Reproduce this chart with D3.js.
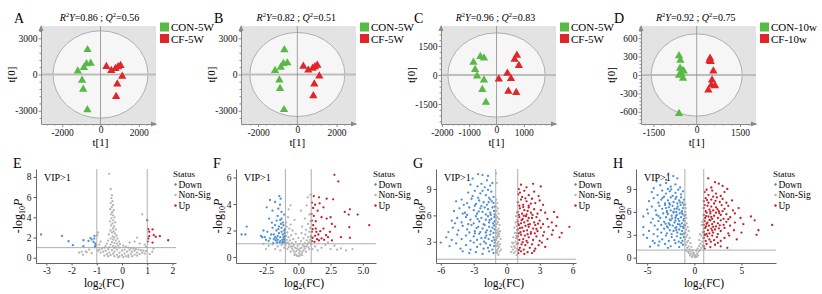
<!DOCTYPE html>
<html><head><meta charset="utf-8">
<script src="https://cdn.jsdelivr.net/npm/d3@7"></script>
<style>body{margin:0;background:#fff;}svg{display:block;}</style>
</head><body><svg id="c" width="822" height="294"></svg>
<script>
// ---------- PCA (OPLS-DA score plots) ----------
const pcaLabels = ["A","B","C","D"];
const pcaR2Y = ["0.86","0.82","0.96","0.92"];
const pcaQ2 = ["0.56","0.51","0.83","0.75"];
const pcaGroupCon = ["CON-5W","CON-5W","CON-5W","CON-10w"];
const pcaGroupCf = ["CF-5W","CF-5W","CF-5W","CF-10w"];
const pcaXTicks = [[-2000,0,2000],[-2000,0,2000],[-2000,-1000,0,1000],[-1500,0,1500]];
const pcaYTicks = [[-3000,0,3000],[-3000,0,3000],[-1500,0,1500],[-600,-300,0,300,600]];
const pcaXDomain = [[-3107,2898],[-2870,2987],[-2030,2177],[-1928,2053]];
const pcaYDomain = [[-4101,4018],[-4101,4018],[-2535,2535],[-798,798]];
const pcaEllipse = [[2480,3620],[2420,3480],[1780,2180],[1575,670]];
const conA = [[-676,2055],[-728,881],[-513,920],[-867,567],[-1185,278],[-962,-486],[-902,-1223],[-685,-2930]];
const cfA  = [[308,649],[566,333],[782,498],[918,634],[1048,743],[1135,-145],[876,-785],[816,-1823]];
const conB = [[-661,2045],[-712,900],[-508,955],[-847,600],[-1136,327],[-915,-464],[-881,-1173],[-678,-2918]];
const cfB  = [[305,682],[559,355],[780,518],[898,627],[1017,764],[1119,-136],[864,-791],[814,-1773]];
const conC = [[-843,655],[-590,948],[-458,879],[-783,276],[-711,-52],[-458,-259],[-518,-759],[-386,-1414]];
const cfC  = [[747,1017],[663,810],[819,483],[398,86],[84,-207],[530,-190],[434,-845],[723,-914]];
const conD = [[-612,311],[-565,240],[-577,109],[-508,71],[-450,65],[-612,-5],[-531,20],[-473,-55],[-612,-627]];
const cfD  = [[462,273],[485,218],[438,229],[577,65],[531,-82],[508,-164],[635,-175],[404,-245]];

// ---------- Volcano plots ----------
const volLabels = ["E","F","G","H"];
const volXDomain = [[-3.41,2.14],[-4.83,6.02],[-6.43,6.3],[-6.18,8.66]];
const volYDomain = [[-0.52,8.78],[-0.45,6.64],[0.57,11.29],[-0.69,11.62]];
const volXTicks = [[-3,-2,-1,0,1,2],[-2.5,0,2.5,5],[-6,-3,0,3,6],[-5,0,5]];
const volXTickLabels = [["-3","-2","-1","0","1","2"],["-2.5","0.0","2.5","5.0"],["-6","-3","0","3","6"],["-5","0","5"]];
const volYTicks = [[0,2,4,6,8],[0,2,4,6],[3,6,9],[0,3,6,9]];
const fcCut = [-1,1];
const pCut = 1;
const statusNames = ["Down","Non-Sig","Up"];

const eDown = [[-3.21,2.3],[-2.38,2.16],[-2.12,1.63],[-1.95,1.24],[-1.53,1.73],[-1.33,1.66],[-1.2,1.8],[-1.09,2.16],[-1.13,1.57],[-1.06,1.4],[-1.06,1.14],[-1.1,1.9],[-1.53,1.14],[-1.04,1.25],[-1.08,1.05],[-1.25,1.95]];
const eUp = [[1.0,3.71],[1.04,2.83],[1.08,2.57],[1.21,2.8],[1.26,2.23],[1.08,2.13],[1.34,2.07],[1.5,2.13],[1.83,1.73],[1.21,1.5],[1.04,1.9],[1.02,1.6]];
const eNon = [[-0.51,8.3],[-0.45,6.8],[-0.4,6.2],[-0.42,5.9],[-0.38,5.6],[-0.45,5.4],[-0.36,5.2],[-0.41,5.0],[-0.47,4.8],[-0.33,4.7],[-0.39,4.5],[-0.44,4.3],[-0.36,4.2],[-0.3,4.0],[-0.42,3.9],[-0.35,3.7],[-0.48,3.6],[-0.27,3.5],[-0.38,3.4],[-0.43,3.2],[-0.31,3.1],[-0.36,2.9],[-0.25,2.8],[-0.46,2.7],[-0.33,2.6],[-0.4,2.5],[-0.28,2.4],[-0.52,2.3],[-0.22,2.2],[-0.37,2.1],[-0.3,2.0],[-0.45,1.9],[-0.18,1.9],[-0.35,1.8],[-0.25,1.7],[-0.55,1.7],[-0.12,1.6],[-0.4,1.55],[-0.3,1.45],[-0.2,1.4],[-0.6,1.4],[-0.08,1.35],[-0.45,1.3],[-0.15,1.2],[-0.35,1.15],[-0.65,1.15],[-0.25,1.1],[0.05,1.2],[-0.5,1.05],[0.15,1.1],[-0.1,1.0],[-0.7,1.0],[0.25,1.0],[-0.3,0.95],[0.35,0.95],[-0.8,0.9],[0.45,0.9],[-0.55,0.85],[0.55,0.85],[-0.2,0.8],[0.1,0.8],[-0.9,0.8],[0.65,0.8],[-0.4,0.75],[0.3,0.75],[0.75,0.75],[-0.65,0.7],[0.0,0.7],[0.5,0.7],[-0.95,0.7],[0.85,0.7],[-0.3,0.6],[0.2,0.6],[0.4,0.6],[-0.75,0.6],[0.95,0.65],[-0.5,0.5],[-0.1,0.5],[0.6,0.5],[0.8,0.5],[-0.85,0.5],[0.1,0.4],[-0.35,0.4],[0.35,0.4],[-0.6,0.35],[0.7,0.35],[-0.2,0.3],[0.5,0.3],[0.0,0.25],[-0.45,0.25],[0.25,0.25],[-0.7,0.2],[0.9,0.4],[-0.1,0.15],[0.15,0.15],[0.4,0.15],[-0.3,0.15],[0.05,0.05],[-0.15,0.05],[0.25,0.08],[0.6,0.2],[-0.55,0.15],[0.8,4.3],[0.6,2.0],[0.5,1.6],[0.7,1.4],[0.9,1.3],[0.3,1.5],[-0.95,2.5],[-0.98,2.2],[-0.9,1.3],[-1.7,0.5],[-1.4,0.55],[-1.2,0.45],[-1.55,0.3],[1.2,0.6],[1.1,0.35],[1.25,0.9],[-1.3,0.8],[0.95,1.1],[-0.85,1.6],[-1.6,0.6],[-1.44,0.62]];

const fDown = [[-1.47,4.6],[-1.37,4.4],[-2.2,4.3],[-1.8,4.15],[-2.45,3.75],[-1.42,3.95],[-1.55,3.65],[-2.0,3.5],[-1.3,3.4],[-2.27,2.9],[-1.68,2.75],[-1.3,2.9],[-4.0,2.3],[-4.4,1.7],[-4.1,1.7],[-2.7,2.0],[-2.4,1.9],[-2.9,1.6],[-2.6,1.5],[-2.2,1.4],[-2.0,2.2],[-1.9,1.7],[-1.8,1.5],[-1.7,2.0],[-1.6,1.3],[-1.5,1.8],[-1.4,1.5],[-1.3,2.2],[-1.25,1.3],[-1.2,1.7],[-1.15,1.5],[-1.1,2.0],[-1.05,1.25],[-1.1,1.1],[-1.2,1.15],[-1.4,1.2],[-1.6,1.6],[-1.75,1.25],[-1.9,1.35],[-2.1,1.7],[-2.3,1.2],[-1.35,2.5],[-1.5,2.3],[-1.15,2.4],[-1.05,1.8],[-1.05,1.55],[-1.3,1.9],[-1.55,2.1],[-1.8,2.4],[-2.05,2.6],[-1.45,1.1],[-1.65,1.1],[-1.25,1.05],[-1.1,1.35],[-2.5,1.3],[-2.8,1.5],[-1.95,1.05],[-1.7,1.45],[-1.02,1.6],[-1.02,2.1],[-1.2,2.6],[-1.4,2.8],[-1.6,3.1],[-1.1,3.2]];
const fUp = [[2.8,6.2],[3.1,5.7],[1.2,4.6],[1.6,4.5],[2.2,4.4],[2.7,4.35],[1.05,4.1],[1.3,3.95],[1.65,4.05],[1.95,3.75],[1.15,3.7],[1.5,3.5],[1.8,3.0],[2.2,2.9],[2.5,3.0],[2.85,2.3],[3.9,3.2],[4.6,3.2],[4.0,3.6],[5.5,2.4],[3.95,2.25],[3.3,1.5],[4.0,1.45],[2.45,1.9],[2.15,1.65],[1.05,2.75],[1.15,2.4],[1.35,2.15],[1.05,1.9],[1.3,1.6],[1.55,1.7],[1.1,1.45],[1.45,1.35],[1.8,1.4],[1.02,1.5],[1.7,1.95],[1.35,2.7],[1.95,2.15],[1.2,3.1],[1.02,3.25],[2.3,1.5],[2.6,1.25],[1.05,1.2],[1.25,1.15],[1.6,1.25],[2.0,1.3],[1.1,2.1],[1.4,1.9],[3.6,3.4],[2.6,2.5]];
const fNon = [[0.0,0.05],[-0.1,0.1],[0.1,0.1],[-0.2,0.2],[0.2,0.2],[0.05,0.3],[-0.3,0.35],[0.3,0.35],[-0.15,0.45],[0.15,0.45],[-0.4,0.5],[0.4,0.5],[0.0,0.55],[-0.5,0.65],[0.5,0.65],[-0.25,0.7],[0.25,0.7],[-0.6,0.8],[0.6,0.8],[-0.05,0.85],[-0.35,0.9],[0.35,0.9],[-0.7,0.95],[0.7,0.95],[0.1,1.0],[-0.5,1.05],[0.5,1.05],[-0.8,1.1],[0.8,1.1],[-0.2,1.15],[0.2,1.2],[-0.65,1.25],[0.65,1.25],[-0.9,1.3],[0.9,1.3],[-0.4,1.35],[0.4,1.4],[0.0,1.45],[-0.75,1.5],[0.75,1.5],[-0.95,1.6],[0.95,1.6],[-0.55,1.65],[0.55,1.7],[-0.2,1.75],[0.25,1.8],[-0.85,1.85],[0.85,1.9],[-0.45,2.0],[0.6,2.05],[-0.7,2.15],[0.9,2.2],[-0.9,2.3],[0.3,2.3],[-0.6,2.45],[0.75,2.5],[-0.95,2.6],[0.95,2.7],[-0.3,2.8],[0.5,2.9],[-0.8,3.0],[0.85,3.2],[-0.75,3.6],[0.2,3.5],[0.73,4.5],[0.95,4.7],[-0.6,3.9],[0.65,3.9],[-0.85,0.6],[0.85,0.6],[-1.0,0.9],[1.0,0.95],[-0.3,0.15],[0.3,0.15],[0.6,0.4],[-0.6,0.4],[-0.75,0.75],[0.78,0.75],[0.12,0.65],[-0.12,0.65],[-0.45,0.8],[0.45,0.8],[0.95,1.05],[-0.95,1.05],[-2.7,1.0],[-2.3,0.85],[-2.0,0.95],[-1.6,0.8],[-1.3,0.9],[-1.8,0.6],[-1.1,0.7],[-1.4,0.5],[-2.5,0.6],[1.8,0.7],[2.5,0.6],[3.0,0.55],[3.7,0.5],[3.3,0.65],[2.1,0.9],[2.8,0.85],[1.3,0.8],[1.5,0.5],[1.1,0.6],[4.2,0.6],[2.3,1.1]];

const gDown = [[-2.6,10.7],[-2.2,10.6],[-1.7,10.5],[-3.1,10.2],[-1.8,10.0],[-2.3,9.6],[-2.65,9.3],[-1.7,8.9],[-3.3,9.5],[-1.3,9.7],[-2.0,9.2],[-1.5,9.4],[-3.5,8.6],[-2.9,8.8],[-2.4,8.5],[-1.9,8.3],[-1.4,8.7],[-1.2,8.1],[-3.1,8.2],[-2.6,8.0],[-1.6,8.0],[-2.2,8.8],[-4.6,7.6],[-4.1,7.8],[-3.6,7.4],[-3.2,7.9],[-2.8,7.3],[-2.5,7.7],[-2.1,7.5],[-1.8,7.2],[-1.5,7.8],[-1.2,7.4],[-1.1,7.0],[-2.9,7.1],[-3.9,7.2],[-1.35,7.6],[-2.3,7.05],[-1.65,7.5],[-4.8,6.5],[-4.3,6.8],[-3.8,6.3],[-3.4,6.9],[-3.0,6.6],[-2.7,6.2],[-2.4,6.8],[-2.2,6.4],[-1.9,6.1],[-1.7,6.7],[-1.5,6.3],[-1.3,6.9],[-1.15,6.5],[-1.1,6.1],[-2.0,6.9],[-3.6,6.05],[-4.0,6.2],[-2.55,6.45],[-1.45,6.05],[-5.0,5.4],[-4.5,5.7],[-4.1,5.2],[-3.7,5.8],[-3.3,5.5],[-3.0,5.1],[-2.8,5.9],[-2.5,5.3],[-2.3,5.7],[-2.1,5.0],[-1.9,5.5],[-1.7,5.9],[-1.6,5.2],[-1.4,5.6],[-1.25,5.1],[-1.12,5.8],[-1.1,5.3],[-3.5,5.0],[-2.65,5.6],[-1.55,5.45],[-4.7,5.1],[-5.3,4.1],[-4.9,4.6],[-4.4,4.3],[-4.0,4.8],[-3.6,4.4],[-3.2,4.9],[-2.9,4.2],[-2.6,4.7],[-2.4,4.1],[-2.2,4.5],[-2.0,4.9],[-1.8,4.3],[-1.6,4.7],[-1.45,4.2],[-1.3,4.6],[-1.2,4.0],[-1.1,4.4],[-3.4,4.05],[-2.75,4.55],[-1.9,4.05],[-1.15,4.85],[-5.5,3.5],[-5.0,3.2],[-4.5,3.8],[-4.1,3.3],[-3.7,3.7],[-3.3,3.1],[-3.0,3.6],[-2.7,3.2],[-2.5,3.9],[-2.3,3.4],[-2.05,3.0],[-1.85,3.7],[-1.65,3.3],[-1.5,3.8],[-1.35,3.1],[-1.2,3.5],[-1.1,3.2],[-2.9,3.95],[-1.95,3.45],[-6.0,2.9],[-5.2,2.5],[-4.6,2.8],[-4.2,2.2],[-3.7,2.6],[-3.3,2.1],[-3.0,2.9],[-2.7,2.4],[-2.4,2.7],[-2.1,2.2],[-1.9,2.8],[-1.7,2.3],[-1.5,2.6],[-1.3,2.1],[-1.15,2.5],[-1.1,2.9],[-4.0,1.9],[-3.4,1.7],[-2.8,1.8],[-2.2,1.6],[-1.6,1.9],[-1.2,1.7]];
const gUp = [[1.3,9.5],[1.8,9.2],[2.4,9.6],[3.1,9.3],[1.1,9.0],[1.2,8.6],[1.6,8.8],[2.0,8.3],[2.5,8.7],[1.4,8.1],[2.9,8.2],[1.05,8.4],[1.0,7.5],[1.3,7.8],[1.5,7.2],[1.8,7.6],[2.0,7.1],[2.3,7.9],[2.6,7.4],[3.0,7.7],[1.15,7.1],[1.7,7.95],[2.2,7.35],[3.3,7.2],[1.0,6.4],[1.2,6.8],[1.4,6.2],[1.6,6.6],[1.8,6.1],[2.0,6.9],[2.2,6.3],[2.5,6.7],[2.8,6.2],[3.1,6.6],[3.5,6.3],[1.1,6.05],[1.5,6.95],[2.35,6.05],[4.3,6.4],[1.9,6.5],[1.0,5.3],[1.15,5.8],[1.3,5.1],[1.45,5.6],[1.6,5.2],[1.75,5.9],[1.9,5.4],[2.1,5.0],[2.3,5.7],[2.5,5.2],[2.7,5.8],[3.0,5.4],[3.3,5.0],[3.7,5.6],[4.1,5.2],[4.6,5.8],[1.05,5.0],[1.35,5.45],[2.0,5.7],[2.85,5.05],[1.55,5.95],[1.0,4.4],[1.1,4.9],[1.25,4.1],[1.4,4.6],[1.55,4.2],[1.7,4.8],[1.85,4.3],[2.0,4.7],[2.2,4.1],[2.4,4.5],[2.6,4.9],[2.8,4.2],[3.1,4.6],[3.4,4.1],[3.8,4.7],[4.2,4.3],[4.5,4.8],[5.0,4.0],[5.7,4.7],[1.2,4.55],[1.95,4.95],[2.7,4.45],[1.0,3.6],[1.15,3.2],[1.3,3.8],[1.5,3.3],[1.65,3.7],[1.8,3.1],[2.0,3.5],[2.2,3.9],[2.4,3.2],[2.7,3.6],[3.0,3.1],[3.3,3.7],[3.7,3.3],[4.1,3.8],[4.8,3.5],[1.1,3.95],[1.9,3.85],[2.55,3.95],[1.0,2.8],[1.2,2.3],[1.35,2.7],[1.55,2.1],[1.7,2.6],[1.9,2.9],[2.1,2.3],[2.3,2.7],[2.6,2.2],[2.9,2.6],[3.2,2.9],[3.5,2.4],[1.1,2.05],[1.45,2.95],[1.05,1.7],[1.3,1.9],[1.6,1.6],[1.9,1.8],[2.3,1.7],[2.5,1.95]];
const gNon = [[-0.97,10.8],[-0.9,9.7],[-0.95,7.8],[-0.85,7.4],[-0.98,7.0],[-0.8,6.8],[-0.92,6.5],[-0.75,6.2],[-0.97,6.0],[-0.85,5.8],[-0.7,5.6],[-0.95,5.4],[-0.8,5.2],[-0.9,5.0],[-0.65,4.9],[-0.98,4.7],[-0.75,4.5],[-0.88,4.3],[-0.6,4.2],[-0.95,4.0],[-0.8,3.8],[-0.7,3.6],[-0.9,3.4],[-0.55,3.3],[-0.97,3.2],[-0.75,3.0],[-0.85,2.8],[-0.6,2.7],[-0.95,2.5],[-0.7,2.4],[-0.8,2.2],[-0.9,2.0],[-0.65,1.9],[-0.85,1.7],[-0.75,1.5],[-0.95,1.8],[-0.5,2.1],[-0.88,3.6],[-0.78,4.1],[-0.92,5.7],[-0.68,3.9],[-0.82,2.6],[0.95,6.3],[0.85,5.9],[0.97,5.5],[0.8,5.2],[0.9,4.8],[0.7,4.6],[0.95,4.3],[0.75,4.0],[0.88,3.7],[0.6,3.5],[0.97,3.3],[0.8,3.0],[0.5,2.9],[0.9,2.7],[0.7,2.5],[0.95,2.2],[0.55,2.1],[0.8,1.9],[0.65,1.7],[0.9,1.5],[0.4,1.8],[0.75,2.3],[0.85,3.4],[0.6,2.8],[0.92,4.0],[0.45,2.4]];

const hDown = [[-2.76,11.0],[-2.23,10.7],[-4.0,10.0],[-3.0,10.2],[-1.8,10.4],[-3.6,9.5],[-3.0,9.8],[-2.5,9.3],[-2.0,9.6],[-1.5,9.2],[-4.3,9.1],[-2.8,9.0],[-4.5,8.6],[-3.9,8.2],[-3.4,8.8],[-3.0,8.4],[-2.6,8.7],[-2.3,8.1],[-2.0,8.5],[-1.7,8.9],[-1.4,8.3],[-1.2,8.7],[-3.2,8.0],[-2.45,8.95],[-4.8,7.4],[-4.3,7.8],[-3.8,7.2],[-3.5,7.6],[-3.1,7.1],[-2.8,7.5],[-2.5,7.9],[-2.2,7.3],[-2.0,7.7],[-1.8,7.1],[-1.6,7.5],[-1.4,7.9],[-1.25,7.2],[-1.1,7.6],[-2.65,7.15],[-3.35,7.85],[-1.9,7.95],[-1.5,7.25],[-5.0,6.3],[-4.5,6.7],[-4.1,6.2],[-3.7,6.8],[-3.4,6.4],[-3.1,6.9],[-2.9,6.1],[-2.7,6.6],[-2.5,6.2],[-2.3,6.8],[-2.1,6.4],[-1.9,6.0],[-1.75,6.7],[-1.6,6.3],[-1.45,6.9],[-1.3,6.1],[-1.2,6.5],[-1.1,6.9],[-2.2,6.05],[-3.0,6.5],[-1.85,6.45],[-2.6,6.95],[-5.4,5.4],[-4.9,5.8],[-4.4,5.1],[-4.0,5.6],[-3.6,5.2],[-3.3,5.8],[-3.0,5.3],[-2.8,5.7],[-2.6,5.0],[-2.4,5.5],[-2.2,5.9],[-2.0,5.2],[-1.85,5.6],[-1.7,5.1],[-1.55,5.8],[-1.4,5.3],[-1.25,5.7],[-1.1,5.1],[-1.05,5.5],[-2.9,5.95],[-3.8,5.45],[-1.95,5.45],[-1.35,5.95],[-2.35,5.15],[-5.4,4.0],[-4.6,4.6],[-4.2,4.2],[-3.8,4.8],[-3.5,4.3],[-3.2,4.7],[-2.9,4.1],[-2.7,4.5],[-2.5,4.9],[-2.3,4.2],[-2.1,4.6],[-1.9,4.0],[-1.75,4.4],[-1.6,4.8],[-1.45,4.1],[-1.3,4.5],[-1.15,4.9],[-1.05,4.3],[-2.0,4.85],[-2.6,4.3],[-1.2,4.05],[-3.05,4.45],[-1.55,4.35],[-5.4,3.0],[-4.8,3.5],[-4.3,3.1],[-3.9,3.7],[-3.5,3.3],[-3.2,3.8],[-2.9,3.2],[-2.6,3.6],[-2.4,3.1],[-2.2,3.5],[-2.0,3.9],[-1.8,3.3],[-1.6,3.7],[-1.45,3.1],[-1.3,3.5],[-1.15,3.9],[-1.05,3.2],[-2.8,3.95],[-1.9,3.6],[-1.25,3.05],[-5.0,2.6],[-4.4,2.2],[-3.9,2.8],[-3.4,2.4],[-3.0,2.9],[-2.7,2.2],[-2.4,2.7],[-2.1,2.3],[-1.85,2.8],[-1.65,2.1],[-1.45,2.6],[-1.25,2.2],[-1.1,2.7],[-3.7,2.1],[-4.7,1.45],[-3.8,1.6],[-3.1,1.8],[-2.5,1.5],[-2.0,1.9],[-1.6,1.4],[-1.2,1.7],[-4.2,1.9],[-2.8,1.3],[-1.4,1.95]];
const hUp = [[1.48,10.4],[2.2,9.9],[3.0,9.4],[2.6,9.7],[1.8,9.2],[3.5,9.0],[1.1,8.6],[1.5,8.2],[1.9,8.8],[2.3,8.4],[2.8,8.1],[3.2,8.6],[1.3,8.9],[2.0,8.0],[1.0,7.4],[1.2,7.8],[1.5,7.2],[1.8,7.6],[2.1,7.1],[2.4,7.9],[2.7,7.3],[3.0,7.7],[3.4,7.2],[4.0,7.5],[1.35,7.55],[2.25,7.45],[1.0,6.5],[1.2,6.1],[1.4,6.8],[1.6,6.3],[1.8,6.7],[2.0,6.2],[2.3,6.6],[2.6,6.1],[2.9,6.9],[3.2,6.4],[3.6,6.8],[4.1,6.2],[4.7,6.5],[1.1,6.9],[1.7,6.05],[2.45,6.35],[3.0,6.1],[1.0,5.6],[1.15,5.2],[1.3,5.9],[1.5,5.4],[1.7,5.8],[1.9,5.1],[2.1,5.5],[2.3,5.9],[2.5,5.2],[2.8,5.6],[3.1,5.1],[3.4,5.7],[3.8,5.3],[4.3,5.8],[4.9,5.2],[6.0,5.4],[1.25,5.45],[1.8,5.35],[2.65,5.85],[3.6,5.05],[1.0,4.3],[1.1,4.8],[1.25,4.1],[1.4,4.6],[1.55,4.2],[1.7,4.9],[1.9,4.4],[2.1,4.7],[2.3,4.1],[2.5,4.5],[2.8,4.9],[3.1,4.3],[3.4,4.7],[3.8,4.2],[4.3,4.6],[5.2,4.4],[6.4,4.9],[8.26,4.3],[1.3,4.45],[2.0,4.05],[2.7,4.25],[1.6,4.95],[1.0,3.4],[1.15,3.9],[1.3,3.1],[1.45,3.6],[1.6,3.2],[1.8,3.8],[2.0,3.3],[2.2,3.7],[2.5,3.1],[2.8,3.5],[3.2,3.9],[3.6,3.2],[4.2,3.6],[5.0,3.3],[6.8,3.6],[6.6,3.0],[1.1,3.05],[1.9,3.55],[2.6,3.85],[1.0,2.6],[1.2,2.2],[1.4,2.8],[1.6,2.4],[1.9,2.9],[2.1,2.3],[2.4,2.7],[2.8,2.2],[3.2,2.6],[3.7,2.9],[4.5,2.4],[1.1,2.95],[1.75,2.1],[1.0,1.5],[1.3,1.8],[1.7,1.4],[2.2,1.7],[2.8,1.5],[3.5,1.3],[1.1,1.2],[2.5,1.95]];
const hNon = [[-0.95,6.0],[-0.9,5.6],[-0.85,5.2],[-0.98,4.8],[-0.8,4.5],[-0.95,4.2],[-0.7,4.0],[-0.88,3.7],[-0.6,3.5],[-0.95,3.3],[-0.75,3.0],[-0.85,2.7],[-0.5,2.6],[-0.97,2.4],[-0.65,2.2],[-0.8,2.0],[-0.4,1.9],[-0.9,1.7],[-0.6,1.5],[-0.3,1.4],[-0.75,1.3],[-0.5,1.1],[-0.2,1.0],[-0.85,0.95],[-0.4,0.8],[-0.1,0.7],[-0.65,0.75],[-0.3,0.5],[0.0,0.4],[-0.15,0.25],[0.15,0.3],[0.3,0.55],[0.05,0.15],[-0.05,0.6],[0.45,0.8],[0.2,0.9],[0.6,1.0],[0.35,1.2],[0.75,1.3],[0.5,1.5],[0.9,1.6],[0.65,1.8],[0.85,2.1],[0.55,2.3],[0.95,2.6],[0.75,2.9],[0.9,3.3],[0.6,3.1],[0.95,3.8],[0.8,4.3],[0.97,5.0],[0.85,4.7],[-0.95,7.0],[-0.9,6.5],[0.1,0.05],[-0.25,0.1],[0.25,0.1],[-0.45,0.3],[0.4,0.3],[-0.55,0.6]];

// ---------- drawing ----------
const FONT = "'Liberation Serif','Times New Roman',serif";
const GREEN = "#58b947", RED = "#e0262b";
const BLUE = "#4a8ed6", GRAY = "#b4b4b4", DRED = "#c4202a";
const svg = d3.select("#c").attr("font-family", FONT);

const pcaCon = [conA, conB, conC, conD];
const pcaCf = [cfA, cfB, cfC, cfD];

function minorTicks(ticks, dom) {
  const step = (ticks[1] - ticks[0]) / 5;
  const out = [];
  for (let v = ticks[0] - step * 20; v <= dom[1]; v += step) {
    if (v >= dom[0] && !ticks.some(t => Math.abs(t - v) < 1e-6)) out.push(v);
  }
  return out;
}

pcaLabels.forEach((lab, i) => {
  const ox = i * 200;
  const g = svg.append("g").attr("transform", `translate(${ox},0)`);
  const L = 41, R = 156, T = 26, B = 124;
  const x = d3.scaleLinear().domain(pcaXDomain[i]).range([L, R]);
  const y = d3.scaleLinear().domain(pcaYDomain[i]).range([B, T]);
  g.append("rect").attr("x", L).attr("y", T).attr("width", R - L).attr("height", B - T).attr("fill", "#e3e3e3");
  g.append("ellipse").attr("cx", x(0)).attr("cy", y(0))
    .attr("rx", x(pcaEllipse[i][0]) - x(0)).attr("ry", y(0) - y(pcaEllipse[i][1]))
    .attr("fill", "#f6f6f6").attr("stroke", "#a0a0a0").attr("stroke-width", 0.8);
  g.append("line").attr("x1", L).attr("x2", R).attr("y1", y(0)).attr("y2", y(0)).attr("stroke", "#bdbdbd").attr("stroke-width", 1.8);
  g.append("line").attr("x1", x(0)).attr("x2", x(0)).attr("y1", T).attr("y2", B).attr("stroke", "#8c8c8c").attr("stroke-width", 0.8);

  // axes
  g.append("g").attr("transform", `translate(0,${B})`)
    .call(d3.axisBottom(x).tickValues(pcaXTicks[i]).tickSize(3).tickSizeOuter(0).tickPadding(2).tickFormat(d => String(d)))
    .selectAll(".tick text").attr("dy", d => d === 0 ? "0.45em" : "0.71em");
  g.append("g").attr("transform", `translate(${L},0)`)
    .call(d3.axisLeft(y).tickValues(pcaYTicks[i]).tickSize(2.5).tickSizeOuter(0).tickPadding(1).tickFormat(d => String(d)));
  g.append("g").attr("transform", `translate(0,${B})`)
    .call(d3.axisBottom(x).tickValues(minorTicks(pcaXTicks[i], pcaXDomain[i])).tickSize(1.5).tickSizeOuter(0).tickFormat(""))
    .select(".domain").remove();
  g.append("g").attr("transform", `translate(${L},0)`)
    .call(d3.axisLeft(y).tickValues(minorTicks(pcaYTicks[i], pcaYDomain[i])).tickSize(1.5).tickSizeOuter(0).tickFormat(""))
    .select(".domain").remove();
  g.selectAll(".domain").attr("stroke", "#8a8a8a");
  g.selectAll(".tick line").attr("stroke", "#8a8a8a");
  g.selectAll(".tick text").attr("font-family", FONT).attr("font-size", 9.5).attr("fill", "#111");
  // arrows
  g.append("path").attr("d", `M${L - 2.5},${T + 5}L${L},${T - 1}L${L + 2.5},${T + 5}Z`).attr("fill", "#8a8a8a");
  g.append("path").attr("d", `M${R - 5},${B - 2.5}L${R + 1},${B}L${R - 5},${B + 2.5}Z`).attr("fill", "#8a8a8a");

  // points
  const tri = d3.symbol().type(d3.symbolTriangle).size(30);
  g.append("g").selectAll("path").data(pcaCon[i]).join("path")
    .attr("d", tri).attr("transform", d => `translate(${x(d[0])},${y(d[1])})`).attr("fill", GREEN);
  g.append("g").selectAll("path").data(pcaCf[i]).join("path")
    .attr("d", tri).attr("transform", d => `translate(${x(d[0])},${y(d[1])})`).attr("fill", RED);

  // title
  const t = g.append("text").attr("x", x(0) - 1).attr("y", 21).attr("text-anchor", "middle").attr("font-size", 10);
  t.append("tspan").attr("font-style", "italic").text("R");
  t.append("tspan").attr("font-size", 6.5).attr("dy", -4).text("2");
  t.append("tspan").attr("font-style", "italic").attr("dy", 4).text("Y");
  t.append("tspan").text("=" + pcaR2Y[i] + " ; ");
  t.append("tspan").attr("font-style", "italic").text("Q");
  t.append("tspan").attr("font-size", 6.5).attr("dy", -4).text("2");
  t.append("tspan").attr("dy", 4).text("=" + pcaQ2[i]);

  // panel letter
  g.append("text").attr("x", 14).attr("y", 23).attr("font-size", 14).text(lab);
  // axis titles
  g.append("text").attr("transform", `translate(${15},${y(0)}) rotate(-90)`).attr("text-anchor", "middle").attr("font-size", 11).text("t[0]");
  g.append("text").attr("x", x(0)).attr("y", 146).attr("text-anchor", "middle").attr("font-size", 11).text("t[1]");

  // legend
  const lx = 160;
  g.append("rect").attr("x", lx).attr("y", 22.5).attr("width", 9).attr("height", 9).attr("fill", GREEN);
  g.append("rect").attr("x", lx).attr("y", 34).attr("width", 9).attr("height", 9).attr("fill", RED);
  g.append("text").attr("x", lx + 11).attr("y", 31).attr("font-size", 11).text(pcaGroupCon[i]);
  g.append("text").attr("x", lx + 11).attr("y", 42.5).attr("font-size", 11).text(pcaGroupCf[i]);
});

const volDown = [eDown, fDown, gDown, hDown];
const volNon = [eNon, fNon, gNon, hNon];
const volUp = [eUp, fUp, gUp, hUp];

volLabels.forEach((lab, i) => {
  const ox = i * 200;
  const g = svg.append("g").attr("transform", `translate(${ox},0)`);
  const L = 36, R = 176, T = 169, B = 263;
  const x = d3.scaleLinear().domain(volXDomain[i]).range([L, R]);
  const y = d3.scaleLinear().domain(volYDomain[i]).range([B, T]);

  // points
  const layers = [[volNon[i], GRAY], [volDown[i], BLUE], [volUp[i], DRED]];
  layers.forEach(([pts, col]) => {
    g.append("g").selectAll("circle").data(pts).join("circle")
      .attr("cx", d => x(d[0])).attr("cy", d => y(d[1])).attr("r", 1.15).attr("fill", col);
  });

  // thresholds
  fcCut.forEach(v => g.append("line").attr("x1", x(v)).attr("x2", x(v)).attr("y1", T).attr("y2", B).attr("stroke", "#a6a6a6").attr("stroke-width", 0.9));
  g.append("line").attr("x1", L).attr("x2", R).attr("y1", y(pCut)).attr("y2", y(pCut)).attr("stroke", "#a6a6a6").attr("stroke-width", 0.9);

  // axes
  g.append("g").attr("transform", `translate(0,${B})`)
    .call(d3.axisBottom(x).tickValues(volXTicks[i]).tickSize(2.5).tickSizeOuter(0).tickPadding(1.5)
      .tickFormat((d, k) => volXTickLabels[i][k]));
  g.append("g").attr("transform", `translate(${L},0)`)
    .call(d3.axisLeft(y).tickValues(volYTicks[i]).tickSize(2.5).tickSizeOuter(0).tickPadding(2).tickFormat(d => String(d)));
  g.selectAll(".domain").attr("stroke", "#555").attr("stroke-width", 0.9);
  g.selectAll(".tick line").attr("stroke", "#555");
  g.selectAll(".tick text").attr("font-family", FONT).attr("font-size", 9.5).attr("fill", "#111");

  // labels
  g.append("text").attr("x", 13).attr("y", 168).attr("font-size", 14).text(lab);
  g.append("text").attr("x", 44).attr("y", 181).attr("font-size", 10).text("VIP>1");
  const xl = g.append("text").attr("x", (L + R) / 2 - 2).attr("y", 286.5).attr("text-anchor", "middle").attr("font-size", 11.5);
  xl.append("tspan").text("log");
  xl.append("tspan").attr("font-size", 7.5).attr("dy", 2.5).text("2");
  xl.append("tspan").attr("dy", -2.5).text("(FC)");
  const yl = g.append("text").attr("transform", `translate(${22},${216}) rotate(-90)`).attr("text-anchor", "middle").attr("font-size", 12);
  yl.append("tspan").text("-log");
  yl.append("tspan").attr("font-size", 8).attr("dy", 3).text("10");
  yl.append("tspan").attr("font-style", "italic").attr("dy", -3).text("P");

  // legend
  const lx = 173;
  g.append("text").attr("x", lx).attr("y", 177).attr("font-size", 9).text("Status");
  const cols = [BLUE, GRAY, DRED];
  statusNames.forEach((s, k) => {
    const yy = 187.5 + k * 10.5;
    g.append("circle").attr("cx", lx + 2.5).attr("cy", yy - 3).attr("r", 1.2).attr("fill", cols[k]);
    g.append("text").attr("x", lx + 5.5).attr("y", yy).attr("font-size", 9.5).text(s);
  });
});
</script>
</body></html>
